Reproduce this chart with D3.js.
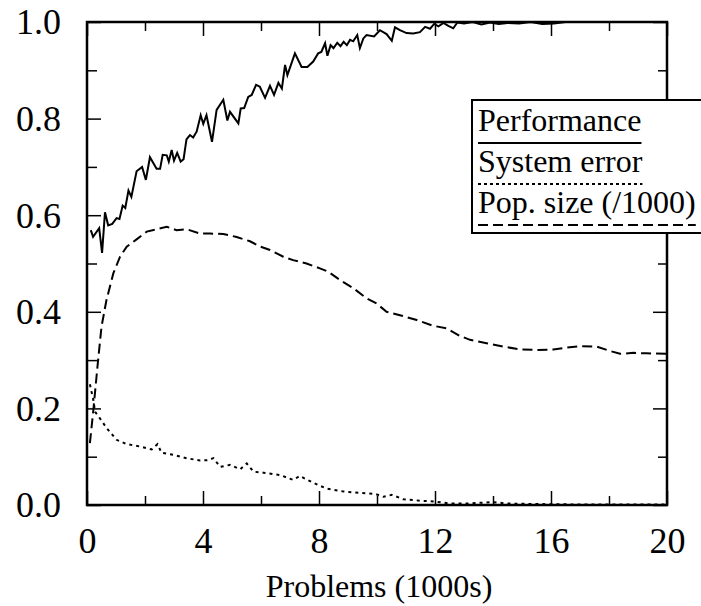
<!DOCTYPE html>
<html>
<head>
<meta charset="utf-8">
<script src="https://cdn.jsdelivr.net/npm/d3@7"></script>
<style>
  body { margin: 0; background: #fff; }
  text { font-family: "Liberation Serif", "Times New Roman", serif; fill: #000; }
</style>
</head>
<body>
<svg width="701" height="606"></svg>
<script>
// values
var perfX = [0.13, 0.21, 0.42, 0.52, 0.62, 0.73, 0.87, 1.02, 1.12, 1.23, 1.32, 1.43, 1.53, 1.71, 1.90, 2.03, 2.17, 2.40, 2.52, 2.61,
    2.75, 2.82, 2.92, 3.00, 3.11, 3.23, 3.33, 3.43, 3.55, 3.66, 3.78, 3.92, 4.01, 4.12, 4.31, 4.47, 4.70, 4.84, 4.93, 5.22,
    5.30, 5.42, 5.56, 5.68, 5.83, 5.96, 6.14, 6.31, 6.45, 6.60, 6.72, 6.83, 6.91, 7.17, 7.40, 7.60, 7.80, 7.97, 8.08, 8.21,
    8.29, 8.40, 8.50, 8.63, 8.74, 8.85, 8.96, 9.07, 9.18, 9.32, 9.41, 9.53, 9.64, 9.90, 10.10, 10.33, 10.51, 10.62, 10.79, 11.02,
    11.25, 11.48, 11.66, 11.83, 11.97, 12.12, 12.29, 12.46, 12.63, 12.77, 13.0, 13.3, 13.6, 13.9, 14.2, 14.5, 14.9, 15.3, 15.7, 16.1,
    16.5, 20];
var perfY = [0.569, 0.555, 0.573, 0.522, 0.606, 0.579, 0.582, 0.594, 0.592, 0.620, 0.615, 0.651, 0.638, 0.691, 0.700, 0.673, 0.720, 0.696, 0.696, 0.725,
    0.724, 0.711, 0.735, 0.713, 0.729, 0.711, 0.716, 0.757, 0.766, 0.761, 0.773, 0.807, 0.789, 0.807, 0.752, 0.818, 0.839, 0.796, 0.814, 0.790,
    0.821, 0.822, 0.845, 0.849, 0.870, 0.866, 0.843, 0.868, 0.849, 0.874, 0.862, 0.911, 0.890, 0.935, 0.907, 0.907, 0.918, 0.935, 0.938, 0.956,
    0.930, 0.952, 0.946, 0.957, 0.950, 0.959, 0.952, 0.963, 0.960, 0.973, 0.946, 0.966, 0.973, 0.970, 0.983, 0.975, 0.961, 0.989, 0.983, 0.977,
    0.976, 0.979, 0.990, 0.986, 0.996, 0.991, 0.998, 0.992, 0.987, 0.999, 0.997, 1.0, 0.995, 0.999, 0.996, 0.998, 0.997, 1.0, 0.996, 0.997,
    1.0, 1.0];

var errX = [0.10, 0.22, 0.28, 0.45, 0.68, 1.02, 1.37, 1.83, 2.23, 2.43, 2.57, 2.98, 3.43, 3.90, 4.18, 4.36, 4.59, 4.93, 5.28, 5.51,
    5.74, 6.08, 6.66, 7.11, 7.34, 7.80, 8.26, 8.84, 9.41, 9.93, 10.22, 10.51, 10.91, 11.48, 12.0, 12.52, 13.1, 13.67, 14.0, 14.5,
    15.5, 17, 20];
var errY = [0.250, 0.217, 0.193, 0.179, 0.159, 0.135, 0.126, 0.121, 0.115, 0.126, 0.108, 0.104, 0.097, 0.092, 0.093, 0.097, 0.079, 0.083, 0.074, 0.086,
    0.069, 0.067, 0.062, 0.052, 0.060, 0.046, 0.034, 0.028, 0.025, 0.023, 0.017, 0.021, 0.012, 0.009, 0.007, 0.003, 0.003, 0.005, 0.006, 0.003,
    0.002, 0.001, 0.001];

var popX = [0.10, 0.22, 0.36, 0.50, 0.67, 0.91, 1.14, 1.37, 1.71, 2.06, 2.40, 2.75, 3.09, 3.43, 3.90, 4.24, 4.70, 5.16, 5.62, 5.97,
    6.31, 6.77, 7.11, 7.57, 8.03, 8.32, 8.72, 9.18, 9.64, 9.99, 10.33, 10.79, 11.37, 11.94, 12.40, 12.86, 13.21, 13.78, 14.36, 14.93,
    15.51, 16.08, 16.54, 17.00, 17.58, 18.03, 18.38, 18.84, 19.30, 20];
var popY = [0.128, 0.197, 0.286, 0.369, 0.424, 0.480, 0.514, 0.535, 0.550, 0.566, 0.571, 0.576, 0.569, 0.571, 0.562, 0.562, 0.561, 0.555, 0.546, 0.535,
    0.528, 0.514, 0.507, 0.500, 0.490, 0.483, 0.466, 0.449, 0.428, 0.417, 0.400, 0.393, 0.383, 0.371, 0.366, 0.350, 0.342, 0.335, 0.328, 0.322,
    0.321, 0.322, 0.326, 0.329, 0.328, 0.319, 0.313, 0.315, 0.314, 0.313];

var xTicks = [0, 2, 4, 6, 8, 10, 12, 14, 16, 18, 20];
var yTicks = [0, 0.1, 0.2, 0.3, 0.4, 0.5, 0.6, 0.7, 0.8, 0.9, 1.0];
var legendNames = ["Performance", "System error", "Pop. size (/1000)"];

var svg = d3.select("svg");

var plotL = 87, plotR = 667, plotT = 22, plotB = 505;

var x = d3.scaleLinear().domain([0, 20]).range([plotL, plotR]);
var y = d3.scaleLinear().domain([0, 1]).range([plotB, plotT]);

function pairs(xs, ys) {
    return xs.map(function (d, i) { return [d, ys[i]]; });
}

var line = d3.line()
    .x(function (d) { return x(d[0]); })
    .y(function (d) { return y(d[1]); });

var styles = [
    { data: pairs(perfX, perfY), dash: null },
    { data: pairs(errX, errY), dash: "3,4" },
    { data: pairs(popX, popY), dash: "10,5" }
];

svg.append("g")
    .selectAll("path")
    .data(styles)
    .enter().append("path")
    .attr("d", function (d) { return line(d.data); })
    .attr("fill", "none")
    .attr("stroke", "#000")
    .attr("stroke-width", 2)
    .attr("stroke-dasharray", function (d) { return d.dash; });

// axes, ticks pointing inward, longer ones on labelled values
function isMajorX(d) { return d % 4 == 0; }
function isMajorY(d) { return Math.round(d * 10) % 2 == 0; }

function fixTicks(g, major, len) {
    g.select(".domain").remove();
    g.selectAll(".tick line")
        .attr("stroke-width", 1.5)
        .each(function (d) {
            var t = d3.select(this);
            if (major(d)) {
                if (t.attr("x2") != null && +t.attr("x2") != 0) t.attr("x2", +t.attr("x2") > 0 ? len : -len);
                if (t.attr("y2") != null && +t.attr("y2") != 0) t.attr("y2", +t.attr("y2") > 0 ? len : -len);
            }
        });
}

var xb = svg.append("g")
    .attr("transform", "translate(0," + plotB + ")")
    .call(d3.axisBottom(x).tickValues(xTicks).tickSize(-9)
        .tickFormat(function (d) { return isMajorX(d) ? d : ""; }));
fixTicks(xb, isMajorX, 14);
xb.selectAll(".tick text")
    .attr("y", 48).attr("dy", null)
    .attr("font-size", 36);

var xt = svg.append("g")
    .attr("transform", "translate(0," + plotT + ")")
    .call(d3.axisTop(x).tickValues(xTicks).tickSize(-9).tickFormat(""));
fixTicks(xt, isMajorX, 14);

var yl = svg.append("g")
    .attr("transform", "translate(" + plotL + ",0)")
    .call(d3.axisLeft(y).tickValues(yTicks).tickSize(-10)
        .tickFormat(function (d) { return isMajorY(d) ? d3.format(".1f")(d) : ""; }));
fixTicks(yl, isMajorY, 14);
yl.selectAll(".tick text")
    .attr("x", -26).attr("dy", "0.33em")
    .attr("font-size", 36);

var yr = svg.append("g")
    .attr("transform", "translate(" + plotR + ",0)")
    .call(d3.axisRight(y).tickValues(yTicks).tickSize(-9).tickFormat(""));
fixTicks(yr, isMajorY, 14);

svg.append("rect")
    .attr("x", plotL).attr("y", plotT)
    .attr("width", plotR - plotL).attr("height", plotB - plotT)
    .attr("fill", "none")
    .attr("stroke", "#000")
    .attr("stroke-width", 2.5);

svg.append("text")
    .attr("x", (plotL + plotR) / 2 + 2)
    .attr("y", 597)
    .attr("text-anchor", "middle")
    .attr("font-size", 32)
    .text("Problems (1000s)");

// legend
var lg = svg.append("g").attr("transform", "translate(472,100)");

lg.append("rect")
    .attr("width", 250).attr("height", 133)
    .attr("fill", "#fff")
    .attr("stroke", "#000")
    .attr("stroke-width", 2);

var items = lg.selectAll("g.item")
    .data(legendNames)
    .enter().append("g")
    .attr("class", "item")
    .attr("transform", function (d, i) { return "translate(6," + (31 + i * 41) + ")"; });

items.append("text")
    .attr("font-size", 32)
    .text(function (d) { return d; });

items.append("line")
    .attr("x1", 0)
    .attr("x2", function () {
        return this.parentNode.querySelector("text").getComputedTextLength();
    })
    .attr("y1", 12).attr("y2", 12)
    .attr("stroke", "#000")
    .attr("stroke-width", 2)
    .attr("stroke-dasharray", function (d, i) { return [null, "3,3", "10,5"][i]; });
</script>
</body>
</html>
